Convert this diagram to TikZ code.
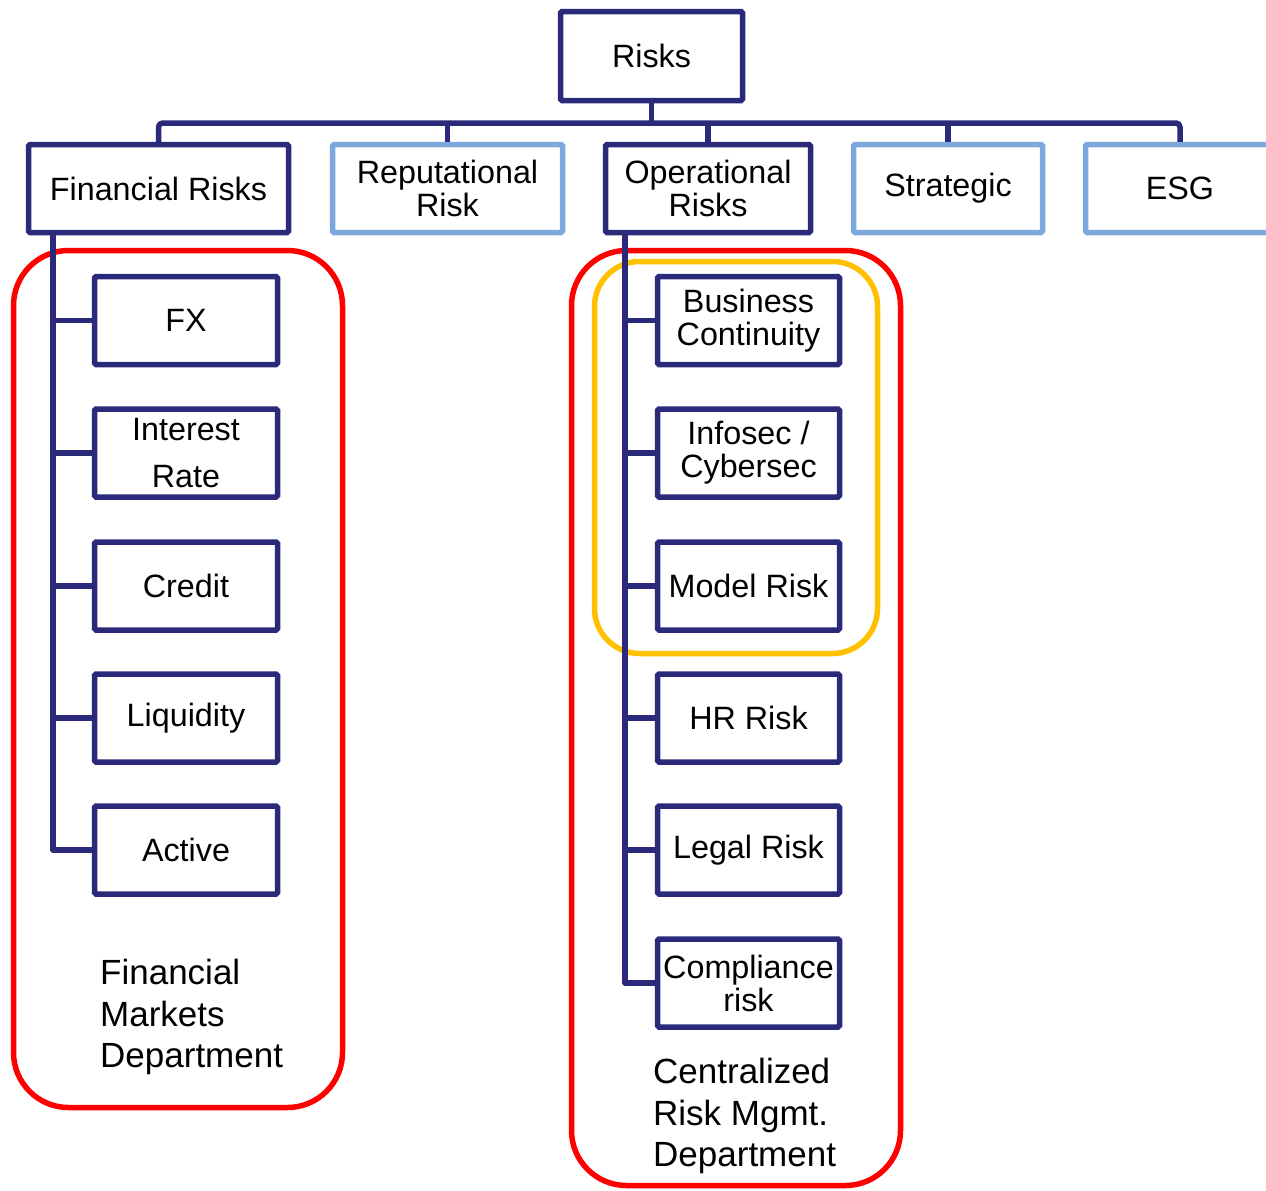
\documentclass[tikz,border=0pt]{standalone}
\usepackage{fontspec}
\setmainfont{Liberation Sans}
\definecolor{navy}{HTML}{2B2A7A}
\definecolor{lblue}{HTML}{7CA8DE}
\definecolor{redf}{HTML}{FF0000}
\definecolor{orangef}{HTML}{FFC000}
\begin{document}
\begin{tikzpicture}[x=1pt,y=-1pt,
  box/.style={draw=navy,line width=5.5pt,fill=white,rounded corners=1.5pt,align=center,inner sep=0pt,
    font=\fontsize{32.3}{33}\selectfont},
  lbox/.style={box,draw=lblue},
  conn/.style={draw=navy,line width=5.5pt,line join=round},
  frame/.style={line width=5.5pt,rounded corners=55pt},
  dept/.style={align=left,inner sep=0pt,font=\fontsize{35}{41.5}\selectfont}]
\useasboundingbox (0,0) rectangle (1266,1191);
% frames
\draw[frame,draw=redf] (13.5,250.5) rectangle (342.5,1107.5);
\draw[frame,draw=redf] (571.5,250.5) rectangle (900.5,1185.5);
\draw[frame,draw=orangef,rounded corners=45pt] (594.5,261.5) rectangle (877.5,653.5);
% top level
\node[box,minimum width=182,minimum height=89] (risks) at (651.5,56) {Risks};
\node[box,minimum width=260,minimum height=88] (fin) at (158.5,188.5) {Financial Risks};
\node[lbox,minimum width=230,minimum height=88] (rep) at (447.5,188.5) {Reputational\\Risk};
\node[box,minimum width=205,minimum height=88] (op) at (708,188.5) {Operational\\Risks};
\node[lbox,minimum width=189,minimum height=88] (strat) at (948,188.5) {Strategic};
\node[lbox,minimum width=189,minimum height=88] (esg) at (1180,188.5) {ESG};
% financial children
\node[box,minimum width=183,minimum height=88] (fx) at (186,320.5) {FX};
\node[box,minimum width=183,minimum height=88,font=\fontsize{32.3}{47}\selectfont] (ir) at (186,453) {Interest\\Rate};
\node[box,minimum width=183,minimum height=88] (cr) at (186,586) {Credit};
\node[box,minimum width=183,minimum height=88] (liq) at (186,718) {Liquidity};
\node[box,minimum width=183,minimum height=88] (act) at (186,850) {Active};
% operational children
\node[box,minimum width=182,minimum height=88] (bc) at (748.5,320.5) {Business\\Continuity};
\node[box,minimum width=182,minimum height=88] (is) at (748.5,453) {Infosec /\\Cybersec};
\node[box,minimum width=182,minimum height=88] (mr) at (748.5,586) {Model Risk};
\node[box,minimum width=182,minimum height=88] (hr) at (748.5,718) {HR Risk};
\node[box,minimum width=182,minimum height=88] (lr) at (748.5,850) {Legal Risk};
\node[box,minimum width=182,minimum height=88] (comp) at (748.5,983) {Compliance\\risk};
% coordinates
\coordinate (busy) at (0,123);
\coordinate (vl) at (53,0);
\coordinate (vr) at (625,0);
% bus
\draw[conn,rounded corners=4pt] (fin.north) -- (fin.north |- busy) -- (esg.north |- busy) -- (esg.north);
\draw[conn] (risks.south) -- (risks.south |- busy);
\draw[conn] (rep.north) -- (rep.north |- busy);
\draw[conn] (op.north) -- (op.north |- busy);
\draw[conn] (strat.north) -- (strat.north |- busy);
% financial tree
\draw[conn] (fin.south -| vl) |- (act.west);
\foreach \c in {fx,ir,cr,liq} \draw[conn] (\c.west) -- (\c.west -| vl);
% operational tree
\draw[conn] (op.south -| vr) |- (comp.west);
\foreach \c in {bc,is,mr,hr,lr} \draw[conn] (\c.west) -- (\c.west -| vr);
% department labels
\node[dept,anchor=west] (fmd) at (100,1017) {Financial\\Markets\\Department};
\node[dept,anchor=west] (crm) at (653,1116) {Centralized\\Risk Mgmt.\\Department};
\end{tikzpicture}
\end{document}
